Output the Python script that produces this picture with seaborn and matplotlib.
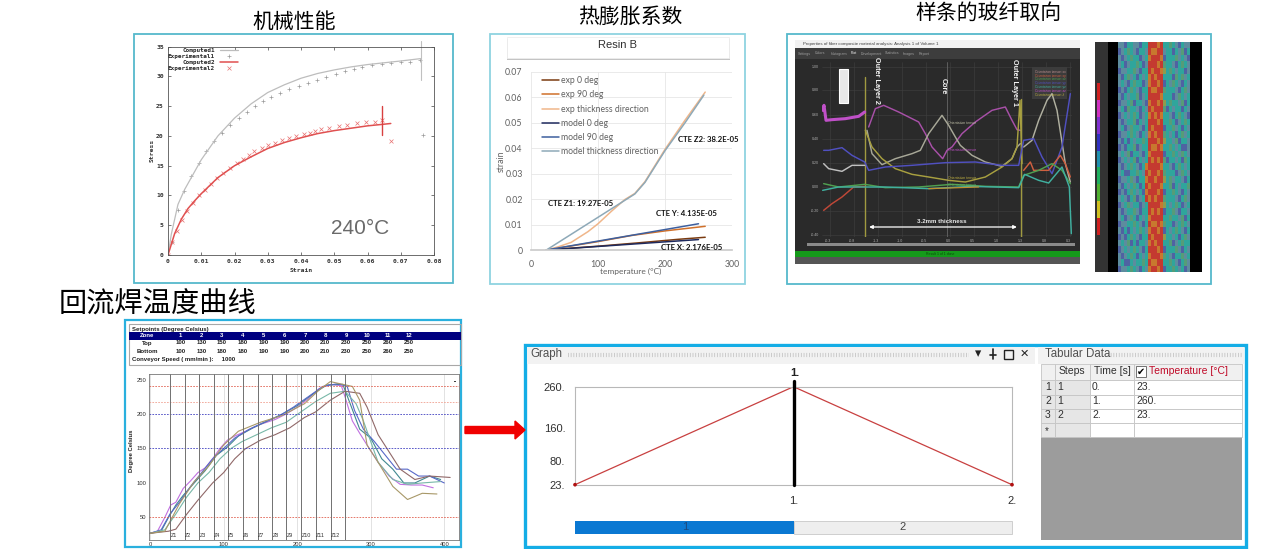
import numpy as np
import matplotlib
matplotlib.use("Agg")
import matplotlib.pyplot as plt
from matplotlib.patches import Rectangle, FancyArrow
from matplotlib.colors import ListedColormap
import seaborn as sns

sns.set_theme(style="white")
plt.rcParams['font.family'] = ['Liberation Sans', 'DejaVu Sans']
CJK = ['Noto Sans CJK SC', 'DejaVu Sans']
W, H = 1269, 549

# ---------- panel 1: stress-strain ----------
comp1_x = [0, .001, .003, .005, .01, .015, .02, .025, .03, .035, .04, .045, .05, .055, .06, .065, .07, .076]
comp1_y = [0, 3.5, 8.5, 11, 16, 20, 23, 25.4, 27.3, 28.6, 29.7, 30.5, 31.1, 31.6, 32, 32.3, 32.6, 33]
exp1_x = [0, .0012, .003, .0048, .0069, .0092, .0113, .0137, .0162, .0187, .0213, .0238, .0262, .0285, .031, .0337,
          .0365, .0395, .042, .0447, .0475, .0505, .0532, .0558, .0582, .0613, .0643, .0672, .07, .0728, .0757, .0767]
exp1_y = [0, 2.2, 7.6, 10.7, 13.2, 15.4, 17.4, 19.1, 20.5, 21.9, 23, 24.1, 25, 25.9, 26.6, 27.3,
          27.9, 28.4, 28.9, 29.4, 29.9, 30.4, 30.9, 31.3, 31.6, 31.9, 32.1, 32.3, 32.4, 32.5, 32.7, 20.2]
comp2_x = [0, .002, .004, .006, .008, .01, .015, .02, .025, .03, .035, .04, .045, .05, .055, .06, .0645, .067]
comp2_y = [0, 3.6, 6, 7.8, 9.1, 10.3, 13, 15, 16.5, 17.9, 18.9, 19.7, 20.4, 20.9, 21.3, 21.7, 21.95, 22.1]
exp2_x = [0, .0012, .0027, .0042, .0058, .0076, .0092, .0111, .013, .0147, .0165, .0186, .0207, .0225, .0243, .026, .0283,
          .0301, .0321, .0342, .0364, .0386, .041, .0428, .0443, .046, .0485, .0513, .0538, .0567, .0596, .0623, .0643, .0671]
exp2_y = [0, 2.2, 4.1, 5.9, 7.4, 8.8, 10, 11, 12, 12.9, 13.8, 14.7, 15.4, 16.2, 16.8, 17.4, 18,
          18.5, 18.9, 19.3, 19.6, 20, 20.3, 20.5, 20.8, 21.1, 21.4, 21.6, 21.9, 22.1, 22.3, 22.4, 22.6, 19.1]

# ---------- panel 2: thermal expansion ----------
exp0_t, exp0_s = [23, 100, 160, 220, 260], [0, .0015, .0028, .0042, .005]
exp90_t, exp90_s = [23, 100, 150, 200, 260], [0, .0033, .0057, .0075, .0093]
expz_t = [23, 40, 60, 85, 100, 120, 140, 155, 170, 200, 230, 260]
expz_s = [0, .0012, .003, .0072, .0103, .0152, .0198, .0222, .0268, .0395, .051, .062]
mod0_t, mod0_s = [23, 250], [0, .0041]
mod90_t, mod90_s = [23, 250], [0, .0103]
modz_t, modz_s = [23, 155, 170, 200, 230, 258], [0, .022, .0265, .039, .05, .0608]
cte_labels = ["CTE Z2: 38.2E-05", "CTE Z1: 19.27E-05", "CTE Y: 4.135E-05", "CTE X: 2.176E-05"]

# ---------- panel 3: fibre orientation profiles ----------
tens_curves = {
    "#c050c8": ([112, 116, 122, 140, 180, 220, 238], [240, 225, 270, 268, 265, 258, 245]),
    "#a850a8": ([250, 270, 295, 340, 400, 420, 440, 472, 485, 500, 530, 570, 620, 660, 680, 695, 705],
                [290, 235, 225, 245, 275, 310, 350, 385, 360, 350, 310, 275, 240, 230, 270, 298, 300]),
    "#a8a898": ([245, 260, 290, 330, 380, 405, 430, 470, 490, 510, 525, 560, 600, 650, 680, 695, 705],
                [300, 370, 403, 385, 370, 360, 310, 255, 285, 320, 345, 375, 395, 408, 385, 350, 340]),
    "#b0b0a0": ([715, 740, 760, 785, 800, 815, 840, 855], [350, 330, 270, 210, 190, 240, 400, 455]),
    "#a8a040": ([240, 260, 290, 330, 380, 430, 490, 540, 600, 650, 680, 695, 704, 710],
                [300, 350, 385, 415, 432, 440, 450, 455, 440, 410, 385, 350, 210, 400]),
    "#5050c0": ([115, 130, 170, 200, 238, 250, 300, 380, 480, 570, 650, 700, 715, 745, 770, 800, 830, 855],
                [360, 360, 352, 375, 395, 420, 410, 405, 397, 395, 405, 405, 330, 325, 380, 430, 350, 190]),
    "#c0c0c0": ([115, 130, 170, 200, 238], [400, 415, 423, 405, 405]),
    "#c04838": ([115, 140, 170, 205, 238], [540, 520, 500, 470, 468]),
    "#d06040": ([715, 735, 745, 790, 825, 840, 855], [420, 395, 420, 420, 375, 400, 440]),
    "#50a050": ([115, 160, 238, 300, 400, 500, 600, 700, 715, 760, 800, 830, 855],
                [460, 470, 462, 472, 470, 462, 468, 470, 435, 420, 400, 420, 460]),
    "#40b0a0": ([112, 160, 300, 430, 560, 700, 718, 760, 790, 830, 852, 858],
                [480, 470, 470, 475, 468, 472, 432, 450, 458, 410, 470, 610]),
}
orient_rows = [
    "223002230077767001023022", "320102300276677200302130", "232010032067776300012023",
    "203200103277767100230102", "322001230076776501020032", "230120302067677000310120",
    "202301003267767302102302", "323010230076677100023012", "230200132077776000321020",
    "322013002367767501002130", "203100230276777130200302", "320201032067676002301023",
    "232001302077767001032010", "203210023076777300120302", "322010230267677102030120",
    "230302001077767500213002", "323001320076676001020332", "202130023067777300102102",
    "320201302076767130020310", "232010230677776002301020", "203300102767767100032102",
    "322012300677677501200230", "230201030767776001302001", "323010203677767300102302",
    "202301320767677100023012", "320120032077776502010320", "232001230076767300123002",
    "203210302067777001002130", "322001023076676100320102", "230302010267767302010230",
    "323010230076777500203012", "202130300267677001320100", "320201023077767300012302",
    "232010302067776102300120", "203302001076677001023012", "322010230267767300102032",
]
orient_colors = ["#2fa59c", "#569c78", "#5d8c9e", "#4f62a2", "#775a90", "#8e9a4f", "#c8782e", "#c43a30", "#a83468"]

# ---------- panel 4: reflow profile ----------
zones = list(range(1, 13))
top_set = [100, 130, 150, 180, 190, 190, 200, 210, 230, 250, 260, 250]
bot_set = [100, 130, 180, 180, 190, 190, 200, 210, 230, 250, 260, 250]
zone_edges = [27.4, 47, 67, 86.4, 105.6, 126, 146.3, 166, 185, 205.3, 225, 245.5, 264.7]
dash_red = [240, 217, 50]
dash_blue = [200, 150]
reflow = {
    "#c070e0": ([0, 10, 20, 28, 35, 45, 55, 65, 75, 85, 95, 105, 115, 130, 150, 170, 185, 200, 215, 230, 245, 260, 265, 275, 285, 295, 310, 325, 340, 355, 370, 385],
                [27, 30, 50, 68, 72, 92, 103, 115, 122, 135, 150, 162, 168, 175, 185, 192, 200, 210, 222, 237, 243, 241, 225, 190, 172, 155, 130, 110, 98, 97, 97, 93]),
    "#408890": ([0, 15, 25, 35, 45, 60, 75, 90, 105, 120, 140, 160, 180, 200, 220, 240, 262, 272, 285, 300, 315, 330, 345, 360, 380, 395],
                [27, 30, 50, 68, 82, 100, 118, 140, 152, 168, 180, 190, 200, 212, 228, 242, 243, 215, 178, 165, 135, 120, 100, 100, 110, 105]),
    "#5868c8": ([0, 15, 27, 40, 55, 70, 85, 100, 115, 135, 155, 175, 195, 215, 235, 255, 268, 278, 290, 305, 320, 335, 350, 365, 380, 400],
                [27, 32, 55, 72, 95, 115, 135, 150, 165, 178, 188, 197, 210, 225, 240, 244, 240, 205, 178, 160, 140, 120, 120, 110, 110, 100]),
    "#78b8a8": ([0, 20, 35, 50, 65, 80, 95, 110, 125, 145, 165, 185, 205, 225, 245, 265, 280, 290, 310, 330, 350, 370, 395],
                [27, 32, 55, 80, 100, 115, 135, 150, 160, 170, 180, 188, 203, 218, 230, 233, 215, 190, 130, 105, 98, 100, 102]),
    "#906868": ([0, 25, 35, 50, 65, 85, 100, 115, 130, 150, 170, 190, 210, 225, 245, 265, 285, 295, 310, 325, 340, 360, 380, 408],
                [27, 30, 33, 55, 75, 100, 115, 135, 150, 162, 170, 180, 195, 203, 220, 233, 230, 210, 170, 145, 120, 105, 110, 108]),
    "#a89868": ([0, 20, 40, 60, 80, 100, 120, 150, 180, 210, 230, 245, 262, 275, 285, 295, 310, 330, 350, 370, 390],
                [27, 30, 70, 102, 125, 155, 175, 188, 198, 215, 235, 247, 243, 240, 220, 155, 130, 95, 76, 85, 84]),
}

# ---------- panel 5: load step ----------
step_time = [0, 1, 2]
step_temp = [23, 260, 23]
step_y_ticks = [23, 80, 160, 260]
table_rows = [("1", "1", "0.", "23."), ("2", "1", "1.", "260."), ("3", "2", "2.", "23.")]

fig = plt.figure(figsize=(W / 100, H / 100), dpi=100, facecolor="white")


def axpx(x0, y0, x1, y1, **kw):
    return fig.add_axes([x0 / W, 1 - y1 / H, (x1 - x0) / W, (y1 - y0) / H], **kw)


bg = axpx(0, 0, W, H)
bg.set_xlim(0, W)
bg.set_ylim(H, 0)
bg.axis("off")


def rect(a, x0, y0, x1, y1, fc="none", ec="none", lw=1, z=1):
    a.add_patch(Rectangle((x0, y0), x1 - x0, y1 - y0, fc=fc, ec=ec, lw=lw, zorder=z))


# frames
rect(bg, 134, 34, 453, 283, ec="#55b9cc", lw=1.3)
rect(bg, 490, 34, 745, 284, ec="#8fd3e0", lw=1.3)
rect(bg, 787, 34, 1211, 284, ec="#55b9cc", lw=1.3)
rect(bg, 125, 320, 461, 547, ec="#2ab0de", lw=1.6)
rect(bg, 525, 345, 1246, 547, ec="#14ade6", lw=2.4)

# titles
for t, x, y, s in [("机械性能", 294, 22, 15), ("热膨胀系数", 630, 18, 15),
                   ("样条的玻纤取向", 988, 13, 15), ("回流焊温度曲线", 158, 305, 20.3)]:
    bg.text(x, y, t, ha="center", va="center", fontsize=s, family=CJK, color="black")

fig_arrow = FancyArrow(465, 430, 60, 0, width=7, head_width=18, head_length=10,
                       length_includes_head=True, fc="#f00000", ec="#f00000", zorder=3)
bg.add_patch(fig_arrow)

# ---- panel 1
a1 = axpx(168, 46.7, 434, 255)
mono = dict(family="DejaVu Sans Mono", fontweight="bold")
sns.lineplot(x=comp1_x, y=comp1_y, ax=a1, color="#bdbdbd", lw=0.9, label="Computed1", estimator=None, sort=False)
sns.scatterplot(x=exp1_x, y=exp1_y, ax=a1, marker="+", color="#9a9a9a", s=9, linewidth=0.5, label="Experimental1")
sns.lineplot(x=comp2_x, y=comp2_y, ax=a1, color="#e05050", lw=1.1, label="Computed2", estimator=None, sort=False)
sns.scatterplot(x=exp2_x, y=exp2_y, ax=a1, marker="x", color="#e87070", s=8, linewidth=0.5, label="Experimental2")
a1.plot([.0645, .0645], [20.2, 25], color="#d84040", lw=1.0)
a1.plot([.0762, .0762], [29.4, 36], color="#c0c0c0", lw=0.8, clip_on=False)
a1.set_xlim(0, .08)
a1.set_ylim(0, 35)
a1.set_xticks(np.arange(0, .081, .01))
a1.set_yticks(range(0, 36, 5))
a1.set_xticklabels(["0", "0.01", "0.02", "0.03", "0.04", "0.05", "0.06", "0.07", "0.08"], fontsize=4.6, **mono)
a1.set_yticklabels([str(v) for v in range(0, 36, 5)], fontsize=4.6, **mono)
a1.tick_params(direction="in", length=2, width=0.5, pad=3, top=True, right=True, bottom=True, left=True,
               color="#444444", labelcolor="#333333")
for s in a1.spines.values():
    s.set_linewidth(0.6)
    s.set_color("#555555")
a1.set_xlabel("Strain", fontsize=4.6, labelpad=3, color="#333333", **mono)
a1.set_ylabel("Stress", fontsize=4.6, labelpad=1, color="#333333", **mono)
leg = a1.legend(loc="upper left", bbox_to_anchor=(0, 0.995), frameon=False, borderpad=0, borderaxespad=0,
                prop={"family": "DejaVu Sans Mono", "weight": "bold", "size": 4.3},
                labelspacing=0.12, markerfirst=False, handlelength=3, handletextpad=0.8)
a1.text(360, 229, "240°C", transform=bg.transData, fontsize=15, color="#6a6a6a", ha="center", va="center")

# ---- panel 2
rect(bg, 507, 39, 730, 60, fc="#c4c4c4", z=1)
rect(bg, 507, 37, 729, 58, fc="white", ec="#eeeeee", lw=0.6, z=2)
bg.text(618, 45.5, "Resin B", fontsize=8, ha="center", va="center", color="#303030", zorder=3)
a2 = axpx(531, 71.7, 732, 250)
series2 = [("exp 0 deg", exp0_t, exp0_s, "#7a3b10"), ("exp 90 deg", exp90_t, exp90_s, "#d0702a"),
           ("exp thickness direction", expz_t, expz_s, "#f0b68a"), ("model 0 deg", mod0_t, mod0_s, "#1e2a5e"),
           ("model 90 deg", mod90_t, mod90_s, "#3d5f9e"), ("model thickness direction", modz_t, modz_s, "#8ea9b8")]
for name, tx, sx, c in series2:
    sns.lineplot(x=tx, y=sx, ax=a2, color=c, lw=1.1, label=name, estimator=None, sort=False)
a2.set_xlim(0, 300)
a2.set_ylim(0, .07)
a2.set_xticks([0, 100, 200, 300])
a2.set_yticks(np.arange(0, .071, .01))
a2.set_yticklabels(["0"] + [f"{v:.2f}" for v in np.arange(.01, .071, .01)])
a2.tick_params(labelsize=6.3, labelcolor="#606060", length=0, labelfontfamily="Lato")
a2.tick_params(axis="y", pad=6)
a2.tick_params(axis="x", pad=7)
a2.grid(True, color="#e6e6e6", lw=0.6)
for k, s in a2.spines.items():
    s.set_visible(k == "bottom")
    s.set_color("#cccccc")
a2.legend(loc="upper left", bbox_to_anchor=(0.055, 0.975), frameon=False, borderpad=0, borderaxespad=0,
          prop={"family": "Lato", "size": 6.2}, labelspacing=0.61, handlelength=2.0, handletextpad=0.2,
          labelcolor="#606060")
bg.text(631, 271, "temperature (°C)", fontsize=6, family="Lato", color="#606060", ha="center", va="center", zorder=5)
a2.text(501, 161, "strain", transform=bg.transData, fontsize=6.3, family="Lato", color="#606060", rotation=90,
        ha="center", va="center", clip_on=False)
for lab, x, y in zip(cte_labels, [678, 548, 656, 661], [139, 203, 214, 248]):
    a2.text(x, y, lab, transform=bg.transData, fontsize=5.6, fontweight="bold", family="Lato", color="#111111",
            ha="left", va="center", clip_on=False)

# ---- panel 3 screenshot (axis in profile position / tensor scale)
rect(bg, 795, 40, 1080, 264, fc="#2a2a2a", z=1)
rect(bg, 795, 40, 1080, 48, fc="#f2f2f2", z=2)
rect(bg, 795, 48, 1080, 59, fc="#3d3d3d", z=2)
rect(bg, 795, 251, 1080, 257, fc="#159a1a", z=2)
rect(bg, 795, 257, 1080, 264, fc="#555555", z=2)
rect(bg, 807, 243, 1075, 246, fc="#8a8a8a", z=2)
bg.text(803, 44.2, "Properties of fiber composite material analysis: Analysis 1 of Volume 1", fontsize=3.2,
        color="#404040", va="center", zorder=3)
tabs = ["Settings", "Colors", "Histogram", "Plot", "Development", "Statistics", "Images", "Report"]
for t, x in zip(tabs, [798, 815, 831, 851, 861, 885, 903, 919]):
    bg.text(x, 53.5, t, fontsize=2.6, color="#a0a0a0" if t != "Plot" else "#ffffff", va="center", zorder=3)
a3 = axpx(822, 62, 1072, 237)
a3.patch.set_alpha(0)
a3.set_xlim(110, 860)
a3.set_ylim(620, 95)
a3.set_xticks(np.arange(135, 860, 72))
a3.set_yticks([110, 180, 253, 325, 397, 470, 542, 613])
a3.grid(True, color="#404040", lw=0.4)
a3.tick_params(labelbottom=False, labelleft=False, length=0)
for s in a3.spines.values():
    s.set_visible(False)
for yy, t in zip([110, 180, 253, 325, 397, 470, 542, 613], ["1.00", "0.80", "0.60", "0.40", "0.20", "0.00", "-0.20", "-0.40"]):
    a3.text(100, yy, t, fontsize=2.6, color="#b0b0b0", ha="right", va="center", clip_on=False)
for xx, t in zip(np.arange(128, 860, 72), ["-0.3", "-0.8", "-1.3", "-1.0", "-0.5", "0.0", "0.5", "1.0", "1.3", "0.8", "0.3"]):
    a3.text(xx, 632, t, fontsize=2.6, color="#b0b0b0", ha="center", va="center", clip_on=False)
a3.plot([485, 485], [95, 620], color="#666666", lw=0.6)
a3.plot([240, 240], [140, 620], color="#a09a40", lw=1.0)
a3.plot([707, 707], [205, 620], color="#a09a40", lw=1.0)
a3.plot([110, 860], [620, 620], color="#a09a40", lw=0.6)
for c, (px, py) in tens_curves.items():
    thick = 2.2 if c == "#c050c8" else 1.05
    sns.lineplot(x=px, y=py, ax=a3, color=c, lw=thick, estimator=None, sort=False, legend=False)
sns.lineplot(x=[430, 580], y=[475, 470], ax=a3, color="#c09030", lw=0.9, estimator=None, sort=False, legend=False)
a3.add_patch(Rectangle((162, 115), 25, 103, fc="#e8e8e8", ec="white", lw=0.8))
a3.annotate("", xy=(703, 590), xytext=(243, 590),
            arrowprops=dict(arrowstyle="<|-|>", color="white", lw=0.9, mutation_scale=5))
a3.text(468, 573, "3.2mm thickness", color="#e8e8e8", fontsize=4.4, fontweight="bold", ha="center", va="center")
a3.text(273, 150, "Outer Layer 2", color="#f4f4f4", fontsize=5.2, fontweight="bold", rotation=-90, ha="center", va="center")
a3.text(474, 168, "Core", color="#f4f4f4", fontsize=5.2, fontweight="bold", rotation=-90, ha="center", va="center")
a3.text(687, 155, "Outer Layer 1", color="#f4f4f4", fontsize=5.2, fontweight="bold", rotation=-90, ha="center", va="center")
a3.add_patch(Rectangle((740, 110), 105, 95, fc="#3c3c3c", ec="none"))
leg_cols = ["#c09090", "#d06040", "#50a050", "#5050c0", "#40b0a0", "#c050c8", "#c0b040"]
for i, c in enumerate(leg_cols):
    a3.text(748, 124 + i * 11.5, "Orientation tensor: " + ["xx", "xy", "xz", "yy", "yz", "zz", "λ"][i], fontsize=2.3, color=c, va="center")
a3.text(530, 279, "Orientation tensor", fontsize=2.5, color="#c0c0a8", ha="center", va="center")
a3.text(530, 358, "Orientation tensor", fontsize=2.5, color="#c050c8", ha="center", va="center")
a3.text(530, 443, "Orientation tensor", fontsize=2.5, color="#c0b040", ha="center", va="center")
a3.text(530, 463, "Orientation tensor", fontsize=2.5, color="#60b060", ha="center", va="center")
bg.text(940, 254, "Result 1 of 1 done", fontsize=2.5, color="#0a4a0a", ha="center", va="center", zorder=3)

# orientation strip
rect(bg, 1095, 42, 1202, 272, fc="#333333", z=1)
rect(bg, 1108, 42, 1118, 272, fc="black", z=2)
rect(bg, 1190, 42, 1202, 272, fc="black", z=2)
a3b = axpx(1118, 42, 1190, 272)
orient = np.array([[int(ch) for ch in row] for row in orient_rows])
sns.heatmap(orient, ax=a3b, cmap=ListedColormap(orient_colors), vmin=-0.5, vmax=8.5, cbar=False,
            xticklabels=False, yticklabels=False)
a3c = axpx(1097, 83, 1099.5, 235)
spectrum = ListedColormap(["#d02020", "#d030c0", "#8030d0", "#3030c0", "#2090b0", "#20b060", "#50b030", "#d0c020", "#d02020"])
sns.heatmap(np.arange(9).reshape(-1, 1), ax=a3c, cmap=spectrum, cbar=False, xticklabels=False, yticklabels=False)

# ---- panel 4
rect(bg, 129, 324, 461, 365, ec="#a8a8a8", lw=0.8)
rect(bg, 129, 332, 461, 339.5, fc="#000080", z=2)
bg.text(132, 329, "Setpoints (Degree Celsius)", fontsize=4.3, fontweight="bold", color="#202020", va="center")
bg.text(147, 335.7, "Zone", fontsize=4.3, fontweight="bold", color="white", ha="center", va="center", zorder=3)
bg.text(147, 343, "Top", fontsize=4.3, fontweight="bold", color="#202020", ha="center", va="center")
bg.text(147, 351.3, "Bottom", fontsize=4.3, fontweight="bold", color="#202020", ha="center", va="center")
bg.text(132, 359.7, "Conveyor Speed ( mm/min ):     1000", fontsize=4.3, fontweight="bold", color="#202020", va="center")
zone_x = [175, 238, 300, 363, 425, 487, 550, 610, 673, 735, 797, 860]
for z, t, b, zx in zip(zones, top_set, bot_set, zone_x):
    px = zx / 3 + 122
    bg.text(px, 335.7, str(z), fontsize=4.3, fontweight="bold", color="white", ha="center", va="center", zorder=3)
    bg.text(px, 343, str(t), fontsize=4.3, fontweight="bold", color="#202020", ha="center", va="center")
    bg.text(px, 351.3, str(b), fontsize=4.3, fontweight="bold", color="#202020", ha="center", va="center")

a4 = axpx(149, 374, 459, 539.5)
for c, (tx, ty) in reflow.items():
    sns.lineplot(x=tx, y=ty, ax=a4, color=c, lw=0.8, estimator=None, sort=False, legend=False)
a4.set_xlim(-1.5, 420)
a4.set_ylim(18, 258)
for v in dash_red:
    a4.axhline(v, color="#e06050" if v != 217 else "#f0a090", ls="--", lw=0.6, dashes=(2, 1.5))
for v in dash_blue:
    a4.axhline(v, color="#4040c0", ls="--", lw=0.6, dashes=(2, 1.5))
for e in zone_edges:
    a4.axvline(e, color="#707070", lw=0.7)
for i, e in enumerate(zone_edges[:-1]):
    a4.text(e + 0.8, 24.5, f"Z{i + 1}", fontsize=3.9, color="#303030", va="center")
a4.set_xticks([0, 100, 200, 300, 400])
a4.set_yticks([50, 100, 150, 200, 250])
a4.grid(True, axis="x", color="#dddddd", lw=0.6)
a4.tick_params(labelsize=4.2, length=0, pad=2, labelcolor="#303030")
for s in a4.spines.values():
    s.set_linewidth(0.6)
    s.set_color("#777777")
a4.set_axisbelow(True)
a4.text(132, 451, "Degree Celsius", transform=bg.transData, fontsize=4.2, fontweight="bold", rotation=90,
        color="#202020", ha="center", va="center", clip_on=False)
a4.text(455, 382, "▪▪", transform=bg.transData, fontsize=3, color="black", ha="center", va="center")

# ---- panel 5 graph
rect(bg, 527, 347, 1035, 364, fc="#f2f2f2", z=1)
rect(bg, 1038, 347, 1244, 364, fc="#f2f2f2", z=1)
bg.text(530, 354, "Graph", fontsize=8.3, color="#505050", va="center", zorder=3)
bg.plot([568, 969], [354.5, 354.5], color="#c4c4c4", lw=3, ls=(0, (0.2, 0.45)), zorder=3)
bg.plot([1108, 1242], [354.5, 354.5], color="#c4c4c4", lw=3, ls=(0, (0.2, 0.45)), zorder=3)
bg.text(1045, 354, "Tabular Data", fontsize=8.3, color="#505050", va="center", zorder=3)
bg.text(978, 354, "▾", fontsize=9, color="#222222", ha="center", va="center", zorder=3, family="DejaVu Sans")
bg.plot([993, 993], [349, 359], color="#222222", lw=1.2, zorder=3)
bg.plot([990, 996], [355, 355], color="#222222", lw=1.2, zorder=3)
rect(bg, 1004, 350, 1013, 359, ec="#222222", lw=1.0, z=3)
bg.text(1024, 354, "✕", fontsize=8, color="#222222", ha="center", va="center", zorder=3, family="DejaVu Sans")

a5 = axpx(575, 386.7, 1012, 484.7)
sns.lineplot(x=step_time, y=step_temp, ax=a5, color="#c84040", lw=0.9, estimator=None, sort=False, legend=False)
sns.scatterplot(x=[step_time[0], step_time[2]], y=[step_temp[0], step_temp[2]], ax=a5, color="#b01010", s=7,
                edgecolor="none", legend=False, clip_on=False, zorder=5)
a5.plot([1, 1], [23, 274], color="black", lw=2.4, clip_on=False, zorder=4)
a5.set_xlim(0, 2)
a5.set_ylim(23, 260)
a5.set_yticks(step_y_ticks)
a5.set_yticklabels([f"{v}." for v in step_y_ticks])
a5.set_xticks([1, 2])
a5.set_xticklabels(["1.", "2."])
a5.tick_params(labelsize=8, length=0, labelcolor="#303030")
a5.tick_params(axis="y", pad=7)
a5.tick_params(axis="x", pad=8)
for s in a5.spines.values():
    s.set_color("#b8b8b8")
    s.set_linewidth(0.8)
bg.text(795, 373, "1.", fontsize=8, fontweight="bold", color="#202020", ha="center", va="center", zorder=6)

rect(bg, 575, 521, 794, 534, fc="#0a78d2", z=2)
rect(bg, 794, 521, 1012, 534, fc="#eeeeee", ec="#c8c8c8", lw=0.6, z=2)
bg.text(685, 527.5, "1", fontsize=8, color="#1a4a80", ha="center", va="center", zorder=3)
bg.text(903, 527.5, "2", fontsize=8, color="#444444", ha="center", va="center", zorder=3)

# ---- table
col_x = [1041, 1055, 1089.5, 1134, 1241.6]
row_y = [364, 379.5, 394.5, 408.5, 422.5, 437]
rect(bg, 1041, 437, 1241.6, 540, fc="#9c9c9c", z=1)
for j in range(4):
    rect(bg, col_x[j], row_y[0], col_x[j + 1], row_y[1], fc="#f0f0f0", ec="#c4c4c4", lw=0.6, z=2)
for i in range(1, 5):
    for j in range(4):
        fc = "#e6e6e6" if j < 2 else "white"
        rect(bg, col_x[j], row_y[i], col_x[j + 1], row_y[i + 1], fc=fc, ec="#c4c4c4", lw=0.6, z=2)
bg.text(1072, 371.5, "Steps", fontsize=7.5, color="#303030", ha="center", va="center", zorder=3)
bg.text(1112, 371.5, "Time [s]", fontsize=7.5, color="#303030", ha="center", va="center", zorder=3)
rect(bg, 1136, 366, 1146, 377, fc="white", ec="#707070", lw=0.7, z=3)
bg.text(1141, 371.5, "✔", fontsize=7, color="black", ha="center", va="center", zorder=4, family="DejaVu Sans")
bg.text(1149, 371.5, "Temperature [°C]", fontsize=7.5, color="#c00a28", ha="left", va="center", zorder=3)
for i, (rh, st, ti, te) in enumerate(table_rows):
    yc = (row_y[i + 1] + row_y[i + 2]) / 2
    bg.text(1045, yc, rh, fontsize=7.5, color="#303030", va="center", zorder=3)
    bg.text(1057, yc, st, fontsize=7.5, color="#303030", va="center", zorder=3)
    bg.text(1092, yc, ti, fontsize=7.5, color="#303030", va="center", zorder=3)
    bg.text(1136, yc, te, fontsize=7.5, color="#303030", va="center", zorder=3)
bg.text(1045, 431, "*", fontsize=7, color="#303030", va="center", zorder=3)

fig.savefig("out.png", dpi=100)
